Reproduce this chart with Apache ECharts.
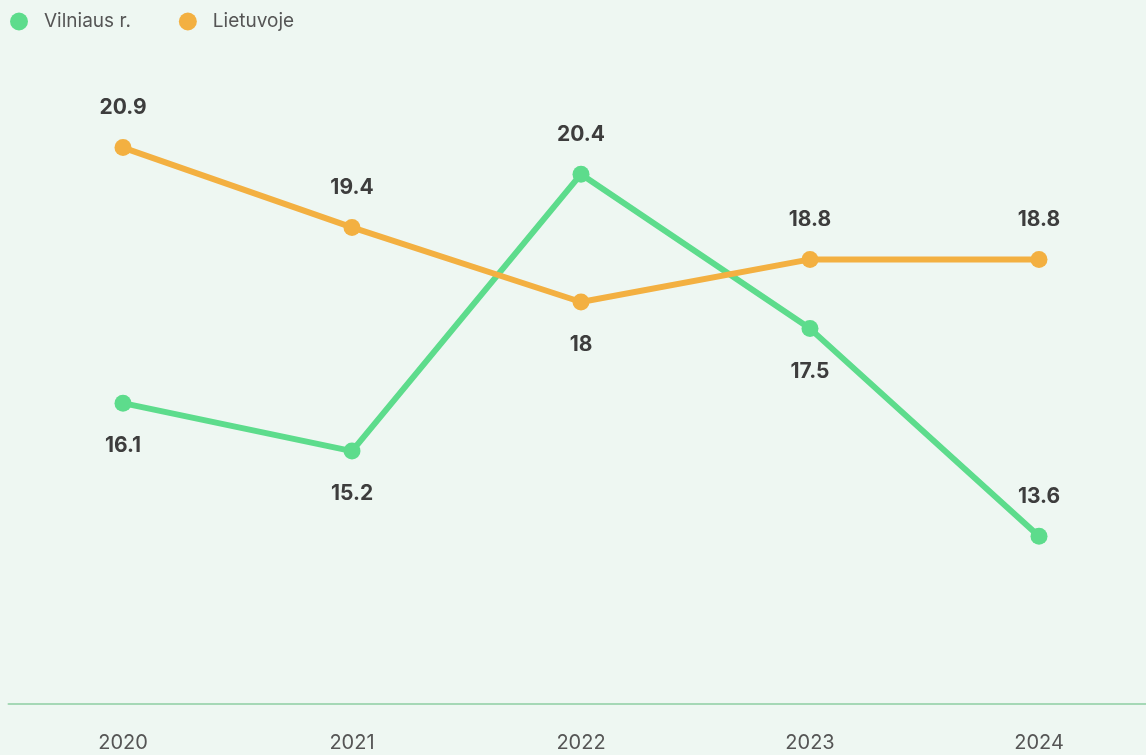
<!DOCTYPE html>
<html>
<head>
<meta charset="utf-8">
<script src="https://cdn.jsdelivr.net/npm/echarts@6/dist/echarts.min.js"></script>
<style>
  html, body { margin: 0; padding: 0; background: #eef7f2; }
  #chart { width: 1146px; height: 755px; }
</style>
</head>
<body>
<div id="chart"></div>
<script>
// metai
var years = ['2020', '2021', '2022', '2023', '2024'];
// reikšmės
var vilniaus = [16.1, 15.2, 20.4, 17.5, 13.6];
var lietuvoje = [20.9, 19.4, 18, 18.8, 18.8];
// kur dėti etiketes
var vilniausPos = ['bottom', 'bottom', 'top', 'bottom', 'top'];
var lietuvojePos = ['top', 'top', 'bottom', 'top', 'top'];

function withLabels(values, pos) {
  var out = [];
  for (var i = 0; i < values.length; i++) {
    out.push({ value: values[i], label: { position: pos[i], distance: pos[i] == 'top' ? 21 : 24 } });
  }
  return out;
}

var mychart = echarts.init(document.getElementById('chart'));
var labelStyle = {
  show: true,
  fontFamily: 'Inter',
  fontSize: 21,
  fontWeight: 'bold',
  color: '#3d3d3d'
};

var option = {
  backgroundColor: '#eef7f2',
  animation: false,
  legend: {
    left: 10,
    top: 12,
    padding: 0,
    icon: 'circle',
    itemWidth: 18,
    itemHeight: 18,
    itemGap: 48,
    textStyle: { fontFamily: 'Inter', fontSize: 19, color: '#555', padding: [0, 0, 0, 11] },
    data: ['Vilniaus r.', 'Lietuvoje']
  },
  grid: { left: 8.5, width: 1145, top: 89, bottom: 51, outerBoundsMode: 'none' },
  xAxis: {
    type: 'category',
    data: years,
    boundaryGap: true,
    axisLine: { lineStyle: { color: '#a5d8b6', width: 2 } },
    axisTick: { show: false },
    axisLabel: { fontFamily: 'Inter', fontSize: 20, color: '#555', margin: 29 }
  },
  yAxis: {
    type: 'value',
    min: 10.45,
    max: 22,
    show: false,
    splitLine: { show: false }
  },
  series: [
    {
      name: 'Vilniaus r.',
      type: 'line',
      data: withLabels(vilniaus, vilniausPos),
      color: '#5ddc8c',
      symbol: 'circle',
      symbolSize: 17,
      lineStyle: { width: 6 },
      label: labelStyle
    },
    {
      name: 'Lietuvoje',
      type: 'line',
      data: withLabels(lietuvoje, lietuvojePos),
      color: '#f3b041',
      symbol: 'circle',
      symbolSize: 17,
      lineStyle: { width: 6 },
      label: labelStyle
    }
  ]
};
mychart.setOption(option);
</script>
</body>
</html>
